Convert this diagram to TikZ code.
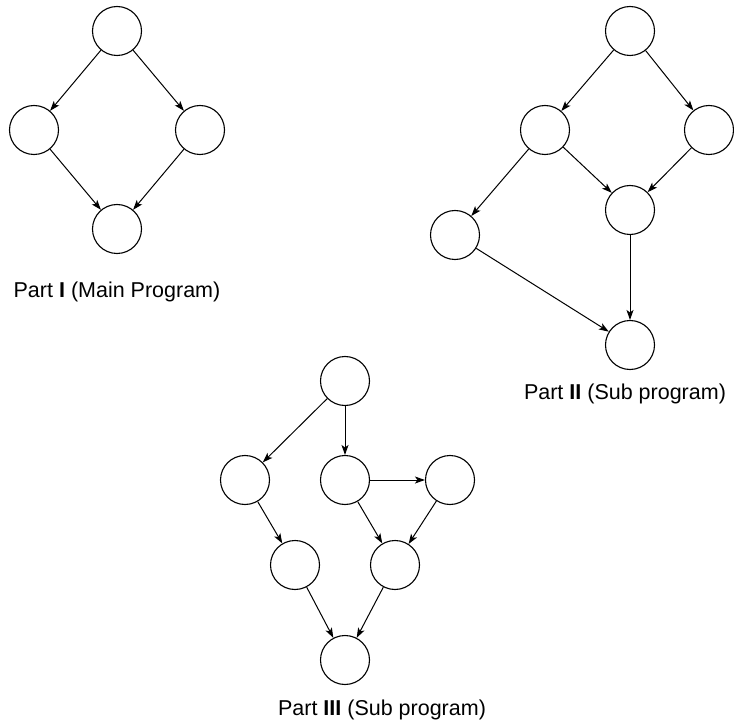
\documentclass[tikz,border=0pt]{standalone}
\usepackage{fontspec}
\setmainfont{Liberation Sans}
\usetikzlibrary{arrows.meta}
\begin{document}
\begin{tikzpicture}[x=1pt,y=-1pt,
  vtx/.style={circle,draw,line width=1.1pt,minimum size=49pt,inner sep=0pt},
  arr/.style={line width=1pt,-{Stealth[length=10pt,width=7pt,inset=2.5pt]}},
  lbl/.style={font=\fontsize{21.5}{24}\selectfont,inner sep=0pt}]
\useasboundingbox (0,0) rectangle (734,722);
% Part I
\node[vtx] (a1) at (117,31) {};
\node[vtx] (a2) at (34,130) {};
\node[vtx] (a3) at (200,130) {};
\node[vtx] (a4) at (117,229) {};
\draw[arr] (a1) -- (a2);
\draw[arr] (a1) -- (a3);
\draw[arr] (a2) -- (a4);
\draw[arr] (a3) -- (a4);
\node[lbl] (l1) at (117,292) {Part \textbf{I} (Main Program)};
% Part II
\node[vtx] (b1) at (630,31) {};
\node[vtx] (b2) at (545,130) {};
\node[vtx] (b3) at (709,130) {};
\node[vtx] (b4) at (630,210) {};
\node[vtx] (b5) at (455,235) {};
\node[vtx] (b6) at (630,345) {};
\draw[arr] (b1) -- (b2);
\draw[arr] (b1) -- (b3);
\draw[arr] (b2) -- (b4);
\draw[arr] (b3) -- (b4);
\draw[arr] (b2) -- (b5);
\draw[arr] (b4) -- (b6);
\draw[arr] (b5) -- (b6);
\node[lbl] (l2) at (625,394) {Part \textbf{II} (Sub program)};
% Part III
\node[vtx] (c1) at (345,381) {};
\node[vtx] (c2) at (245,480) {};
\node[vtx] (c3) at (345,480) {};
\node[vtx] (c4) at (450,480) {};
\node[vtx] (c5) at (295,565) {};
\node[vtx] (c6) at (395,565) {};
\node[vtx] (c7) at (345,660) {};
\draw[arr] (c1) -- (c2);
\draw[arr] (c1) -- (c3);
\draw[arr] (c3) -- (c4);
\draw[arr] (c3) -- (c6);
\draw[arr] (c4) -- (c6);
\draw[arr] (c2) -- (c5);
\draw[arr] (c5) -- (c7);
\draw[arr] (c6) -- (c7);
\node[lbl] (l3) at (382,710) {Part \textbf{III} (Sub program)};
\end{tikzpicture}
\end{document}
